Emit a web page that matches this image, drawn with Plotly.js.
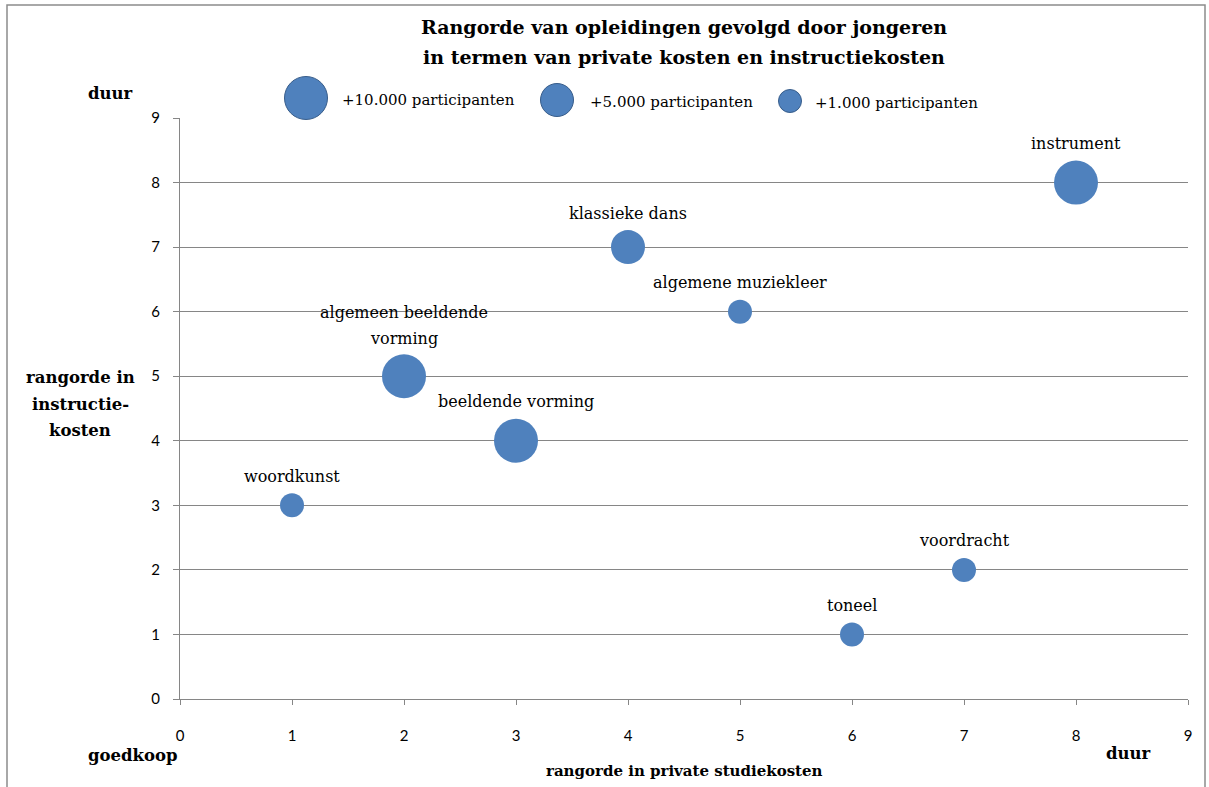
<!DOCTYPE html>
<html><head><meta charset="utf-8">
<script src="https://cdn.plot.ly/plotly-3.0.1.min.js"></script>
<style>html,body{margin:0;padding:0;background:#fff}#chart{width:1209px;height:787px}</style>
</head><body><div id="chart"></div>
<script>
const opleidingen = ["woordkunst","algemeen beeldende|vorming","beeldende vorming","klassieke dans","algemene muziekleer","toneel","voordracht","instrument"];
const privateKosten = [1,2,3,4,5,6,7,8];
const instructieKosten = [3,5,4,7,6,1,2,8];
const participanten = [1000,10000,10000,5000,1000,1000,1000,10000];
const legendLabels = ["+10.000 participanten","+5.000 participanten","+1.000 participanten"];
const legendClasses = [10000,5000,1000];
const xTicks = [0,1,2,3,4,5,6,7,8,9];
const yTicks = [0,1,2,3,4,5,6,7,8,9];

const diam = {10000:44, 5000:34, 1000:24};
const blue = "#4F81BD";
const serif = "DejaVu Serif, serif";
const sans = "Lato, Open Sans, sans-serif";

const L = 180, R = 1188, T = 118, B = 699;
const px = x => (x - L) / (R - L);
const py = y => (B - y) / (B - T);

const trace = {
  type: "scatter", mode: "markers",
  x: privateKosten, y: instructieKosten,
  marker: {color: blue, size: participanten.map(p => diam[p]), line: {width: 0}, opacity: 1},
  hoverinfo: "skip", cliponaxis: false
};

const shapes = [
  {type:"rect", xref:"paper", yref:"paper", x0:px(7), x1:px(1205), y0:py(800), y1:py(5), line:{color:"#8c8c8c", width:1.5}, fillcolor:"rgba(0,0,0,0)", layer:"below"}
];
const annotations = [];
// data labels, placed in data coordinates above each bubble
opleidingen.forEach((name,i) => {
  const lines = name.split("|");
  const base = diam[participanten[i]] / 2 + 17 - (lines.length > 1 ? 1 : 0);
  lines.slice().reverse().forEach((ln, j) => {
    annotations.push({x: privateKosten[i], y: instructieKosten[i], xref:"x", yref:"y",
      text: ln, showarrow:false, yshift: base + j*26, xanchor:"center", yanchor:"middle",
      font:{family:serif, size:16, color:"#000"}});
  });
});
const legendPos = [[306,98],[557,100],[790,101]];
const legendTextX = [340,588,813];
legendClasses.forEach((c,i) => {
  const d = diam[c] - 1;
  shapes.push({type:"circle", xref:"paper", yref:"paper", xsizemode:"pixel", ysizemode:"pixel",
    xanchor:px(legendPos[i][0]), yanchor:py(legendPos[i][1]), x0:-d/2, x1:d/2, y0:-d/2, y1:d/2,
    fillcolor:blue, line:{color:"#385D8A", width:1}});
  annotations.push({xref:"paper", yref:"paper", x:px(legendTextX[i]), y:py(legendPos[i][1]+2), xanchor:"left", yanchor:"middle",
    text: legendLabels[i], showarrow:false, font:{family:serif, size:15, color:"#000"}});
});
const boldL = {family: serif, size: 16.5, color: "#000"};
const bold = {family: serif, size: 15, color: "#000"};
const tfont = {family: serif, size: 19, color: "#000"};
const paperText = (x, y, t, f) => ({xref:"paper", yref:"paper", x:px(x), y:py(y), text:"<b>"+t+"</b>", showarrow:false, font:f, xanchor:"center", yanchor:"middle"});
annotations.push(
  paperText(110, 94, "duur", boldL),
  paperText(80, 377, "rangorde in", boldL),
  paperText(80, 404, "instructie-", boldL),
  paperText(80, 430, "kosten", boldL),
  paperText(133, 755, "goedkoop", boldL),
  paperText(1128, 753, "duur", boldL),
  paperText(684, 771, "rangorde in private studiekosten", bold),
  paperText(684, 27, "Rangorde van opleidingen gevolgd door jongeren", tfont),
  paperText(684, 57, "in termen van private kosten en instructiekosten", tfont)
);

const layout = {
  width: 1209, height: 787,
  margin: {l: L, r: 1209 - R, t: T, b: 787 - B},
  paper_bgcolor: "#fff", plot_bgcolor: "#fff",
  showlegend: false,
  title: {text: ""},
  xaxis: {range:[0,9], tickvals:xTicks, ticktext:xTicks.map(String), showgrid:false, zeroline:false,
    showline:true, linecolor:"#868686", linewidth:1, ticks:"outside", ticklen:5, tickcolor:"#868686",
    ticklabelstandoff: 18, tickfont:{family:sans, size:15, color:"#000"}, fixedrange:true},
  yaxis: {range:[0,9], tickvals:yTicks, ticktext:yTicks.map(String), showgrid:true, gridcolor:"#868686", gridwidth:1,
    zeroline:false, showline:true, linecolor:"#868686", linewidth:1, ticks:"outside", ticklen:6, tickcolor:"#868686",
    ticklabelstandoff: 10, tickfont:{family:sans, size:15, color:"#000"}, fixedrange:true},
  shapes: shapes, annotations: annotations
};
Plotly.newPlot("chart", [trace], layout, {displayModeBar:false, staticPlot:true});
</script></body></html>
